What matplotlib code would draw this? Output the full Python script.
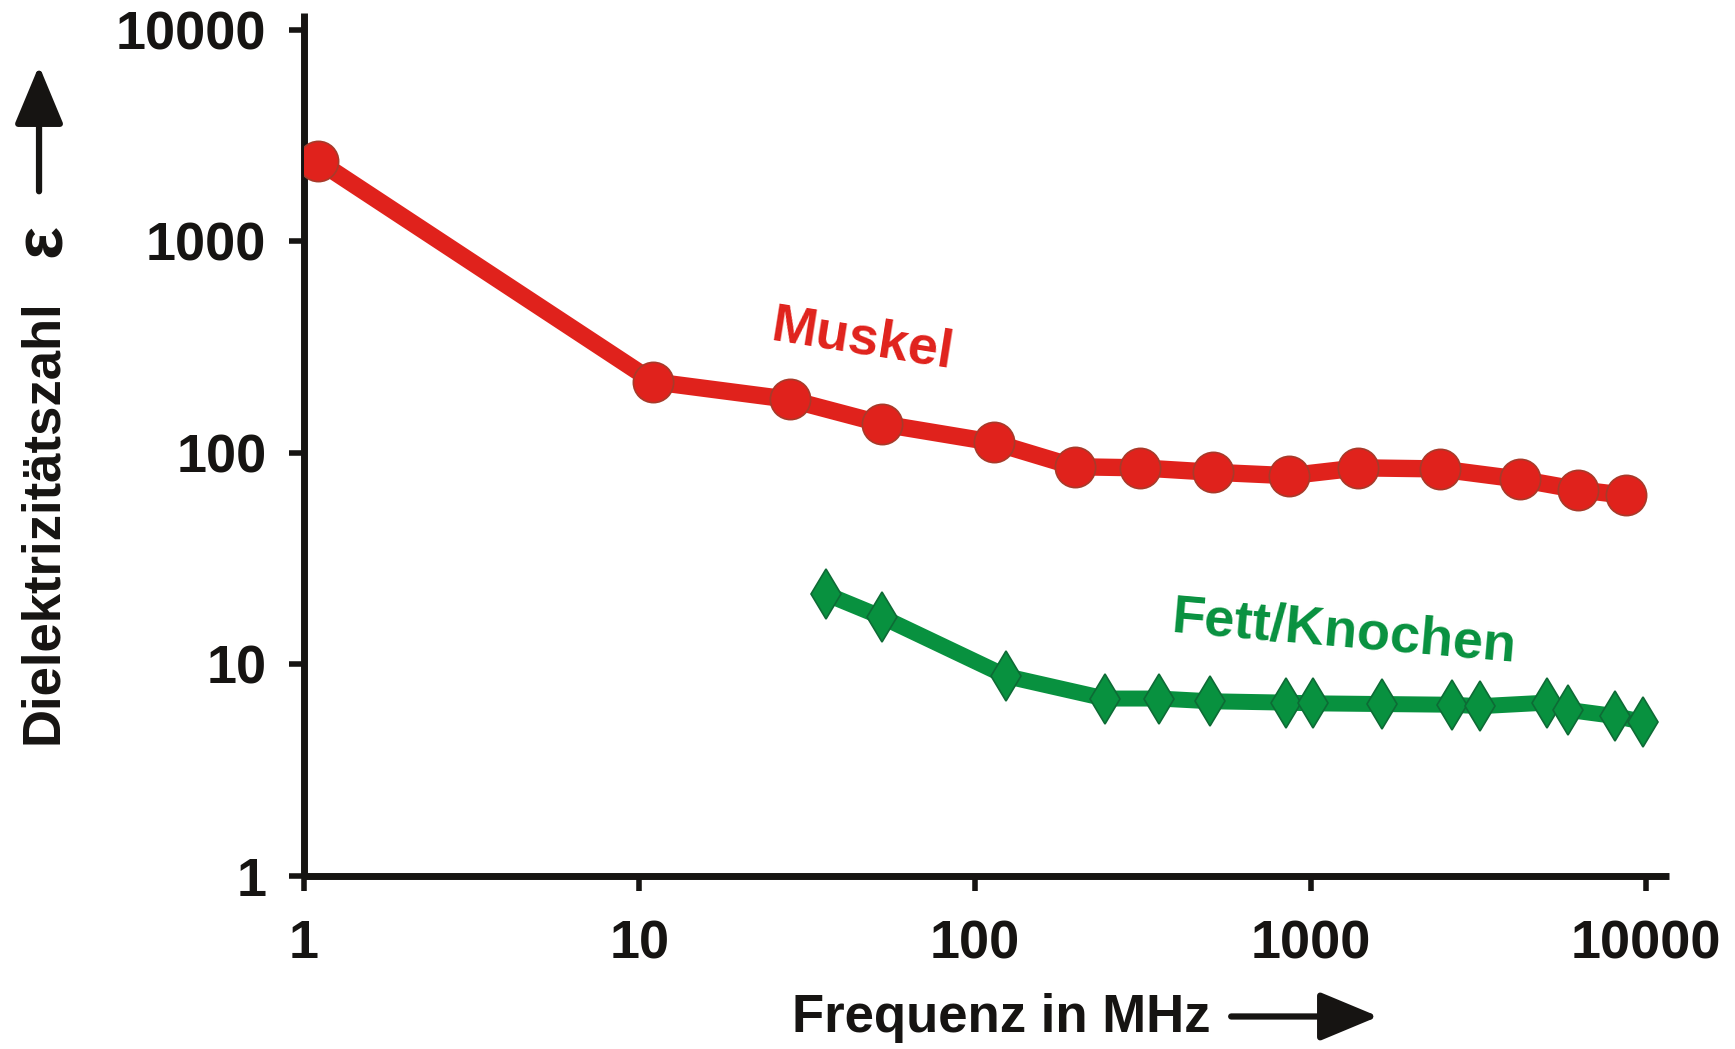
import matplotlib.pyplot as plt
from matplotlib.patches import FancyArrowPatch

plt.rcParams['font.family'] = ['Liberation Sans', 'DejaVu Sans']
plt.rcParams['font.weight'] = 'bold'

# Dielektrizitätszahl über Frequenz (MHz)
muskel_f = [1.1, 11, 28, 53, 114, 198, 310, 512, 865, 1390, 2430, 4220, 6270, 8720]
muskel_eps = [2400, 217, 179, 137, 112, 86, 85, 81, 78, 85, 84, 75, 67, 63]

fett_f = [36, 53, 124, 244, 354, 502, 848, 1017, 1630, 2640, 3200, 5070, 5860, 8090, 9800]
fett_eps = [21.5, 16.7, 8.8, 6.9, 6.9, 6.7, 6.6, 6.55, 6.5, 6.45, 6.35, 6.6, 6.1, 5.7, 5.35]

ticks = [1, 10, 100, 1000, 10000]
tick_labels = ['1', '10', '100', '1000', '10000']

red = '#e0221c'
green = '#08913f'
black = '#161412'

fig = plt.figure(figsize=(17.35, 10.49), dpi=100)
ax = fig.add_axes([0.1752, 0.1649, 0.7867, 0.8227])

ax.plot(muskel_f, muskel_eps, color=red, lw=12.5, marker='o', ms=29,
        mfc=red, mec='#a83a2a', mew=1.2, solid_joinstyle='round',
        solid_capstyle='round', zorder=3)
ax.plot(fett_f, fett_eps, color=green, lw=11.5, marker='d', ms=25,
        mfc=green, mec='#0d6b35', mew=1.2, solid_joinstyle='round', zorder=3)

ax.set_xscale('log')
ax.set_yscale('log')
ax.set_xlim(1, 11700)
ax.set_ylim(1, 12000)
ax.set_xticks(ticks)
ax.set_xticklabels(tick_labels)
ax.set_yticks(ticks)
ax.set_yticklabels(tick_labels)
ax.minorticks_off()

for s in ['top', 'right']:
    ax.spines[s].set_visible(False)
for s in ['left', 'bottom']:
    ax.spines[s].set_linewidth(5)
    ax.spines[s].set_color(black)
    ax.spines[s].set_capstyle('butt')

ax.tick_params(axis='both', which='major', direction='out', length=11, width=4,
               color=black, labelsize=39, labelcolor=black)
ax.tick_params(axis='x', pad=20)
ax.tick_params(axis='y', pad=16)

ax.text(46, 340, 'Muskel', color=red, fontsize=39, fontweight='bold',
        rotation=-9, ha='center', va='center')
ax.text(1260, 14, 'Fett/Knochen', color=green, fontsize=39, fontweight='bold',
        rotation=-5, ha='center', va='center')

# Achsenbeschriftungen mit Pfeilen
fig.text(0.0245, 0.503, 'Dielektrizitätszahl', rotation=90, ha='center',
         va='center', fontsize=38, color=black)
fig.text(0.0245, 0.771, 'ε', rotation=90, ha='center', va='center',
         fontsize=50, color=black)
fig.text(0.577, 0.030, 'Frequenz in MHz', ha='center', va='center',
         fontsize=38, color=black)

arrow_style = '-|>,head_length=36,head_width=15'
fig.add_artist(FancyArrowPatch((0.0225, 0.815), (0.0225, 0.940),
                               transform=fig.transFigure, arrowstyle=arrow_style,
                               mutation_scale=1, lw=4.5, color=black))
fig.add_artist(FancyArrowPatch((0.708, 0.031), (0.796, 0.031),
                               transform=fig.transFigure, arrowstyle=arrow_style,
                               mutation_scale=1, lw=4.5, color=black))

fig.savefig('out.png', dpi=100, facecolor='white')
